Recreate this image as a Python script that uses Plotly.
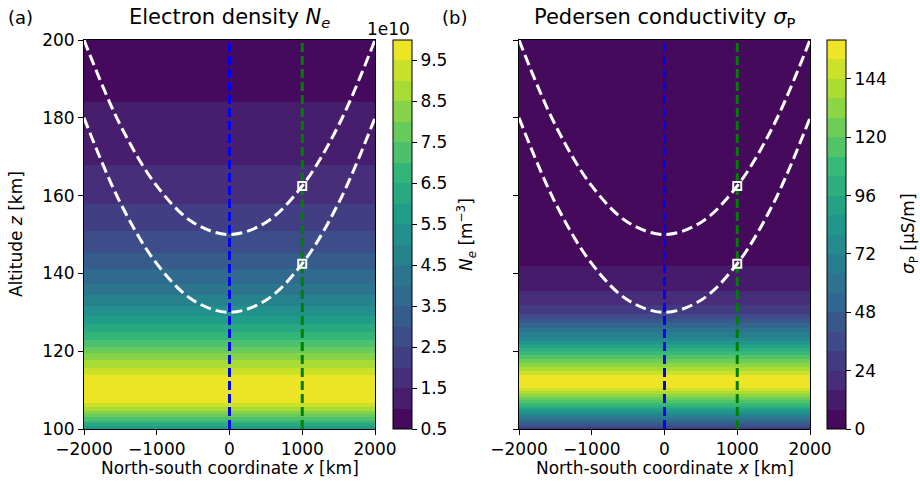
import plotly.graph_objects as go
from plotly.colors import sample_colorscale, sequential

# ---------------- data ----------------
x_edges = [-2000, 2000]

# Electron density profile (1e10 m^-3) vs altitude (km)
alt_ne = [100.0, 100.77, 101.54, 102.06, 103.08, 103.86, 104.63, 105.66, 106.68,
          110.3, 113.88, 115.68, 117.74, 119.54, 121.08, 122.88, 124.94, 127.0,
          129.05, 131.62, 134.45, 137.28, 141.13, 145.32, 150.9, 157.84, 167.87,
          184.14, 200.0]
ne_vals = [5.7, 6.0, 6.5, 7.0, 7.5, 8.0, 8.5, 9.0, 9.5,
           9.9, 9.5, 9.0, 8.5, 8.0, 7.5, 7.0, 6.5, 6.0,
           5.5, 5.0, 4.5, 4.0, 3.5, 3.0, 2.5, 2.0, 1.5,
           1.0, 0.72]

# Pedersen conductivity profile (uS/m) vs altitude (km)
alt_sp = [100.0, 100.3, 100.9, 101.5, 102.2, 102.8, 103.5, 104.1, 104.8, 105.4,
          106.0, 106.7, 107.5, 108.2, 109.0, 109.8, 110.5, 112.2, 113.9, 114.9,
          115.9, 117.0, 118.0, 119.0, 119.9, 120.8, 121.7, 122.6, 123.5, 125.0,
          126.1, 127.3, 128.3, 129.6, 131.8, 135.5, 141.9, 160.0, 200.0]
sp_vals = [30, 32, 40, 48, 56, 64, 72, 80, 88, 96,
           104, 112, 120, 128, 136, 144, 152, 156, 152, 144,
           136, 128, 120, 112, 104, 96, 88, 80, 72, 64,
           56, 48, 40, 32, 24, 16, 8, 3, 1]

# field lines (km, km)
fl_x = [-2000, -1500, -1000, -500, 0, 500, 1000, 1500, 2000]
fl_upper = [200, 178.1, 162.5, 153.1, 150, 153.1, 162.5, 178.1, 200]
fl_lower = [180, 158.1, 142.5, 133.1, 130, 133.1, 142.5, 158.1, 180]

meridian_x = [0, 1000]
alt_range = [100, 200]
cross_x = [1000, 1000]
cross_z = [162.5, 142.5]

ne_levels = dict(start=0.5, end=10.0, size=0.5)
sp_levels = dict(start=0, end=160, size=8)
ne_ticks = [0.5, 1.5, 2.5, 3.5, 4.5, 5.5, 6.5, 7.5, 8.5, 9.5]
sp_ticks = [0, 24, 48, 72, 96, 120, 144]
x_ticks = [-2000, -1000, 0, 1000, 2000]
z_ticks = [100, 120, 140, 160, 180, 200]

# ---------------- helpers ----------------
W, H = 920, 487
def fx(px): return px / W
def fy(py): return 1 - py / H

def band_colors(nbands):
    return sample_colorscale(sequential.Viridis, [(k + 0.5) / nbands for k in range(nbands)])

def contour_scale(nbands):
    # plotly colours band k of a filled contour at position (k+1)/(nbands+1)
    nlev = nbands + 1
    cols = band_colors(nbands)
    scale = [[0.0, cols[0]]]
    for k in range(nbands):
        scale.append([(k + 1) / nlev, cols[k]])
    scale.append([1.0, cols[-1]])
    return scale

def stepped_scale(nbands):
    cols = band_colors(nbands)
    scale = []
    for k in range(nbands):
        scale.append([k / nbands, cols[k]])
        scale.append([(k + 1) / nbands, cols[k]])
    return scale

FONT = "DejaVu Sans"

def cbar(xpx, ticks):
    return dict(x=fx(xpx), xanchor="left", xpad=0, ypad=0,
                y=fy(429), yanchor="bottom", len=(429 - 40) / H, lenmode="fraction",
                thickness=19, thicknessmode="pixels",
                outlinewidth=1, outlinecolor="black",
                tickvals=ticks, ticks="outside", ticklen=5, tickwidth=1, tickcolor="black",
                tickfont=dict(family=FONT, size=17, color="black"))

fig = go.Figure()

for lv, alt, vals, xa, ya, cbx, ticks in (
        (ne_levels, alt_ne, ne_vals, "x", "y", 393, ne_ticks),
        (sp_levels, alt_sp, sp_vals, "x2", "y2", 827, sp_ticks)):
    nb = int(round((lv["end"] - lv["start"]) / lv["size"]))
    fig.add_trace(go.Contour(
        x=x_edges, y=alt, z=[[v, v] for v in vals],
        autocontour=False,
        contours=dict(start=lv["start"], end=lv["end"], size=lv["size"],
                      coloring="fill", showlines=False),
        line=dict(width=0), colorscale=contour_scale(nb), showscale=False,
        xaxis=xa, yaxis=ya, hoverinfo="skip"))
    # colour bar carrier (invisible marker)
    fig.add_trace(go.Scatter(
        x=[0, 0], y=[150, 150], mode="markers",
        marker=dict(size=1, opacity=0, color=[lv["start"], lv["end"]],
                    cmin=lv["start"], cmax=lv["end"], colorscale=stepped_scale(nb),
                    showscale=True, colorbar=cbar(cbx, ticks)),
        xaxis=xa, yaxis=ya, hoverinfo="skip"))

for xa, ya in (("x", "y"), ("x2", "y2")):
    for mx, col in zip(meridian_x, ["blue", "green"]):
        fig.add_trace(go.Scatter(x=[mx, mx], y=alt_range, mode="lines",
                                 line=dict(color=col, width=3, dash="9px,4px"),
                                 xaxis=xa, yaxis=ya, hoverinfo="skip"))
    for fz in (fl_upper, fl_lower):
        fig.add_trace(go.Scatter(x=fl_x, y=fz, mode="lines",
                                 line=dict(color="white", width=3, dash="11px,5px", shape="spline"),
                                 xaxis=xa, yaxis=ya, hoverinfo="skip"))
    fig.add_trace(go.Scatter(x=cross_x, y=cross_z, mode="markers",
                             marker=dict(symbol="square-open", size=8, color="white",
                                         line=dict(width=2, color="white")),
                             xaxis=xa, yaxis=ya, hoverinfo="skip"))

axis_common = dict(showgrid=False, zeroline=False, showline=True, linecolor="black",
                   linewidth=1, mirror=True, ticks="outside", ticklen=5, tickwidth=1,
                   tickcolor="black", automargin=False,
                   tickfont=dict(family=FONT, size=17, color="black"))

fig.update_layout(
    width=W, height=H, margin=dict(l=0, r=0, t=0, b=0),
    paper_bgcolor="white", plot_bgcolor="white", showlegend=False,
    font=dict(family=FONT, size=17, color="black"),
    xaxis=dict(domain=[fx(84), fx(375)], range=[-2000, 2000], tickvals=x_ticks,
               anchor="y", **axis_common),
    yaxis=dict(domain=[fy(429), fy(40)], range=[100, 200], tickvals=z_ticks,
               anchor="x", **axis_common),
    xaxis2=dict(domain=[fx(519), fx(810)], range=[-2000, 2000], tickvals=x_ticks,
                anchor="y2", **axis_common),
    yaxis2=dict(domain=[fy(429), fy(40)], range=[100, 200], tickvals=z_ticks,
                anchor="x2", showticklabels=False, **axis_common),
)

def ann(text, xpx, ypx, size=17, angle=0, xanchor="center"):
    fig.add_annotation(text=text, x=fx(xpx), y=fy(ypx), xref="paper", yref="paper",
                       showarrow=False, textangle=angle, xanchor=xanchor, yanchor="middle",
                       font=dict(family=FONT, size=size, color="black"))

ann("(a)", 6, 17, size=18, xanchor="left")
ann("(b)", 440, 17, size=18, xanchor="left")
ann("Electron density <i>N</i><sub><i>e</i></sub>", 229.5, 18, size=21)
ann("Pedersen conductivity <i>σ</i><sub>P</sub>", 664.5, 18, size=21)
ann("1e10", 412, 29, size=17, xanchor="right")
ann("Altitude <i>z</i> [km]", 16, 234, angle=-90)
ann("<i>N</i><sub><i>e</i></sub> [m<sup>−3</sup>]", 466, 234, angle=-90)
ann("<i>σ</i><sub>P</sub> [μS/m]", 909, 234, angle=-90)
ann("North-south coordinate <i>x</i> [km]", 229.5, 468)
ann("North-south coordinate <i>x</i> [km]", 664.5, 468)

fig.write_html("out.html", config={"displayModeBar": False},
               post_script="document.body.style.margin='0';document.body.style.overflow='hidden';")
